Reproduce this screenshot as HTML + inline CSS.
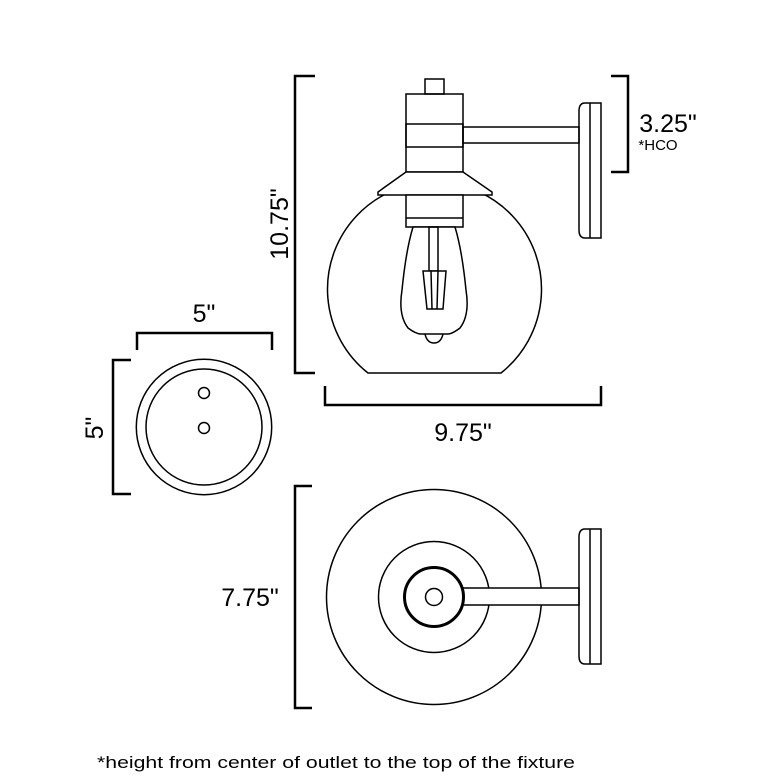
<!DOCTYPE html>
<html><head><meta charset="utf-8"><style>
html,body{margin:0;padding:0;background:#fff;}
svg{display:block;}
text{font-family:"Liberation Sans",sans-serif;fill:#000;}
</style></head><body>
<svg width="780" height="780" viewBox="0 0 780 780" xmlns="http://www.w3.org/2000/svg">
<g fill="none" stroke="#000" stroke-width="1.5">
<!-- dimension brackets -->
<polyline points="315,76 295,76 295,373 315,373" stroke-width="2.5"/>
<polyline points="611,76 628,76 628,172 611,172" stroke-width="2.5"/>
<polyline points="325,386 325,405 601,405 601,386" stroke-width="2.5"/>
<polyline points="137,350 137,333 272,333 272,350" stroke-width="2.5"/>
<polyline points="131,360 113,360 113,494 131,494" stroke-width="2.5"/>
<polyline points="312,486 295,486 295,708 312,708" stroke-width="2.5"/>
<!-- side view -->
<path d="M368,373 A107,107 0 1 1 501,373 Z" />
<rect x="370" y="170" width="130" height="25" fill="#fff" stroke="none"/>
<rect x="425" y="79" width="19" height="15"/>
<rect x="406" y="94" width="57" height="78"/>
<rect x="406" y="124" width="57" height="23"/>
<rect x="463" y="127" width="116" height="16"/>
<path d="M585,103 L601,103 L601,238 L585,238 Q579,238 579,230 L579,111 Q579,103 585,103 Z"/>
<line x1="590" y1="103" x2="590" y2="238"/>
<polygon points="406,172 463,172 492,192 492,195 378,195 378,192" fill="#fff"/>
<rect x="406" y="195" width="57" height="32" fill="#fff"/>
<line x1="406" y1="218" x2="463" y2="218"/>
<path d="M413,227 L455,227 Q462,250 466,290 Q470,315 460,328 Q452,334 448,334 L421,334 Q416,334 408,328 Q398,315 402,290 Q406,250 413,227 Z" fill="#fff"/>
<path d="M425,334 Q427,343 434,343 Q441,343 443,334"/>
<rect x="429" y="227" width="9" height="44"/>
<polygon points="423,271 446,271 443,309 427,309" fill="#fff"/>
<line x1="431" y1="271" x2="432" y2="309"/><line x1="438" y1="271" x2="437" y2="309"/>
<!-- small plate -->
<circle cx="204" cy="427" r="67.7"/>
<circle cx="204" cy="427" r="58"/>
<circle cx="204" cy="393" r="5.5"/>
<circle cx="204" cy="428" r="5.5"/>
<!-- bottom view -->
<circle cx="434" cy="597" r="107.5"/>
<circle cx="434" cy="597" r="55.5"/>
<rect x="463" y="588" width="116" height="17" fill="#fff"/>
<circle cx="434" cy="597" r="29.5" stroke-width="3" fill="#fff"/>
<circle cx="434" cy="597" r="8.5"/>
<path d="M585,529 L601,529 L601,664 L585,664 Q579,664 579,656 L579,537 Q579,529 585,529 Z"/>
<line x1="590" y1="529" x2="590" y2="664"/>
</g>
<text x="668" y="132" font-size="25" text-anchor="middle">3.25"</text>
<text x="658" y="150" font-size="15" text-anchor="middle">*HCO</text>
<text x="0" y="0" font-size="25" text-anchor="middle" transform="translate(288,224) rotate(-90)">10.75"</text>
<text x="463" y="441" font-size="25" text-anchor="middle">9.75"</text>
<text x="204" y="322" font-size="25" text-anchor="middle">5"</text>
<text x="0" y="0" font-size="25" text-anchor="middle" transform="translate(103,428) rotate(-90)">5"</text>
<text x="250" y="606" font-size="25" text-anchor="middle">7.75"</text>
<text x="97" y="768" font-size="17" textLength="478" lengthAdjust="spacingAndGlyphs">*height from center of outlet to the top of the fixture</text>
</svg>
</body></html>
